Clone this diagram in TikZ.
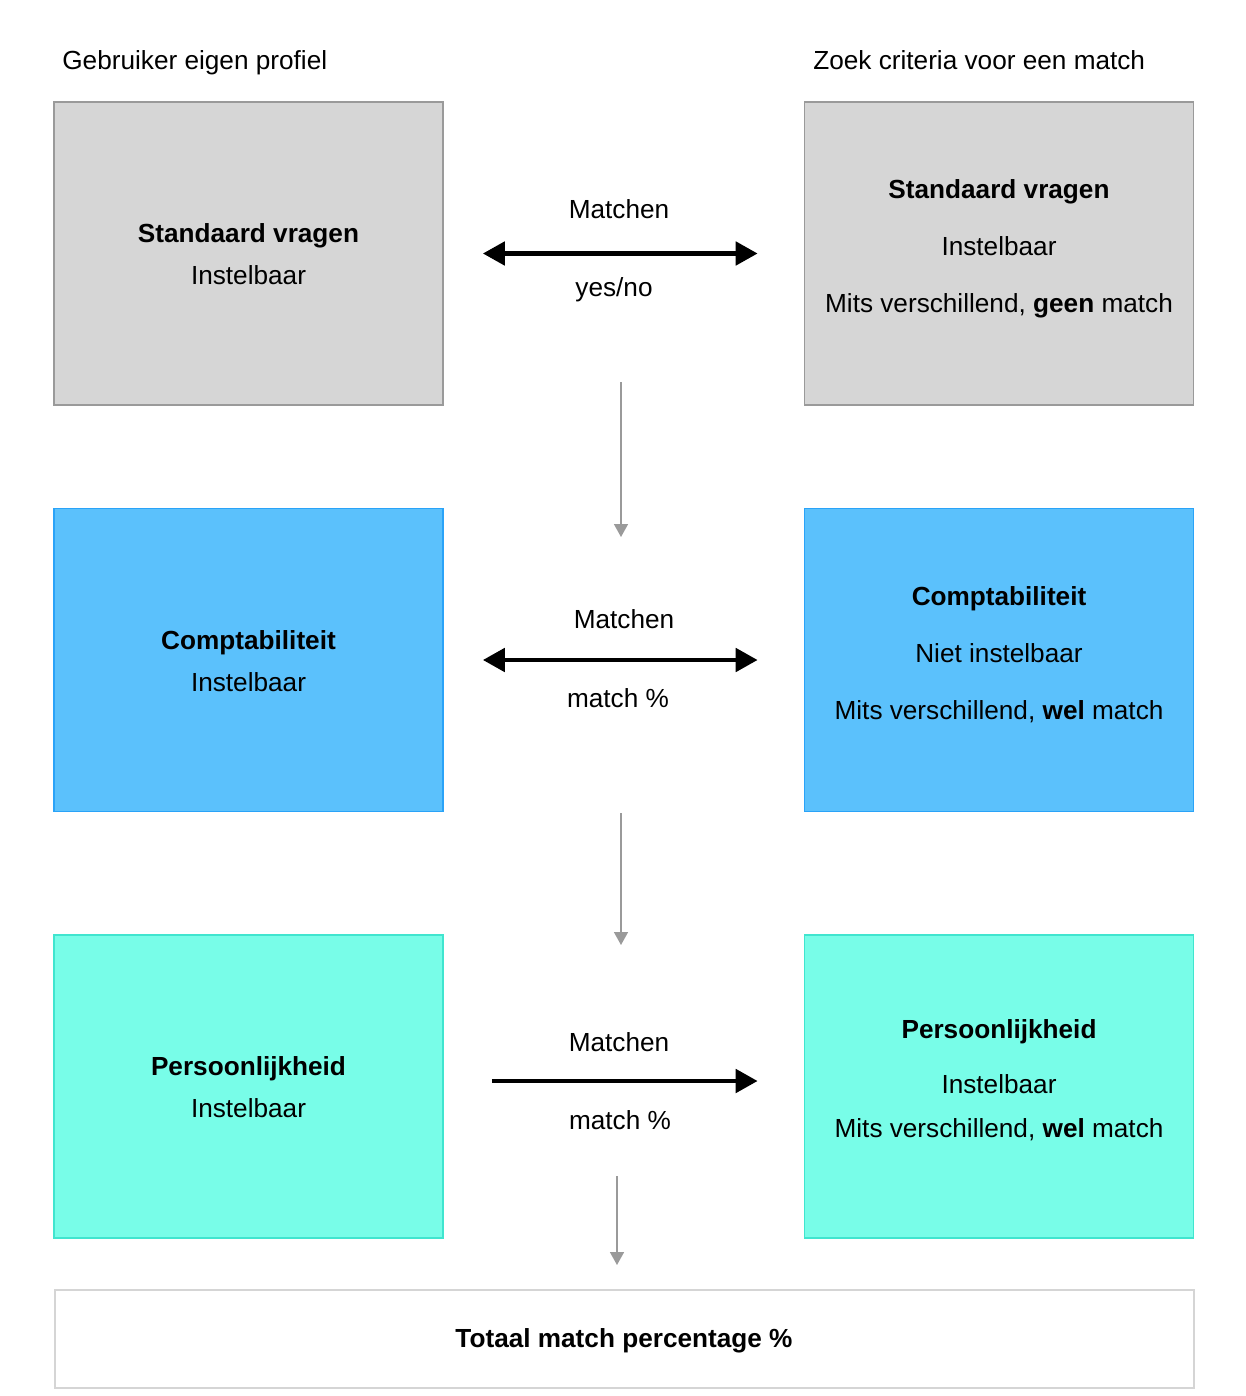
\documentclass[tikz,border=0pt]{standalone}
\usepackage{xcolor}
\usepackage{fontspec}
\setmainfont{Liberation Sans}
\usetikzlibrary{positioning,arrows.meta}

\definecolor{vraaggrijs}{HTML}{D6D6D6}
\definecolor{vraagrand}{HTML}{9A9A9A}
\definecolor{compblauw}{HTML}{5BC1FC}
\definecolor{comprand}{HTML}{2AA3F8}
\definecolor{perscyaan}{HTML}{78FDE8}
\definecolor{persrand}{HTML}{40E5CF}
\definecolor{totaalrand}{HTML}{D5D5D5}

\tikzset{
  blok/.style={draw, rectangle, line width=1pt, minimum width=7.78cm, minimum height=6.06cm},
  blokkop/.style={align=center, font=\fontsize{14.9}{24}\selectfont},
  blokrechts/.style={align=center, font=\fontsize{14.9}{32.4}\selectfont},
  pijltekst/.style={font=\fontsize{14.9}{18}\selectfont},
  matchpijl/.style={line width=2.8pt, -{Triangle[length=0.44cm,width=0.46cm]}},
  beidepijl/.style={line width=2.8pt, {Triangle[length=0.44cm,width=0.46cm]}-{Triangle[length=0.44cm,width=0.46cm]}},
  volgpijl/.style={draw=vraagrand, line width=0.9pt, -{Triangle[length=0.26cm,width=0.28cm]}}
}

\begin{document}
\begin{tikzpicture}[x=0.02cm, y=-0.02cm]
\useasboundingbox (0,0) rectangle (1246,1396);

% kopjes
\node[pijltekst, anchor=base west, inner sep=0pt] (eigen) at (62,69) {Gebruiker eigen profiel};
\node[pijltekst, anchor=base west, inner sep=0pt] (zoek) at (813,69) {Zoek criteria voor een match};

% rij 1: standaard vragen
\node[blok, fill=vraaggrijs, draw=vraagrand] (sv1) at (248.5,253.5) {};
\node[blokkop] (sv1tekst) at (248.5,254) {\textbf{Standaard vragen}\\Instelbaar};
\node[blok, fill=vraaggrijs, draw=vraagrand] (sv2) at (999,253.5) {};
\node[blokrechts] (sv2tekst) at (999,249) {\textbf{Standaard vragen}\\Instelbaar\\Mits verschillend, \textbf{geen} match};

% rij 2: comptabiliteit
\node[blok, fill=compblauw, draw=comprand] (cp1) at (248.5,660) {};
\node[blokkop] (cp1tekst) at (248.5,661) {\textbf{Comptabiliteit}\\Instelbaar};
\node[blok, fill=compblauw, draw=comprand] (cp2) at (999,660) {};
\node[blokrechts] (cp2tekst) at (999,654.5) {\textbf{Comptabiliteit}\\Niet instelbaar\\Mits verschillend, \textbf{wel} match};

% rij 3: persoonlijkheid
\node[blok, fill=perscyaan, draw=persrand] (pl1) at (248.5,1086.5) {};
\node[blokkop] (pl1tekst) at (248.5,1087) {\textbf{Persoonlijkheid}\\Instelbaar};
\node[blok, fill=perscyaan, draw=persrand] (pl2) at (999,1086.5) {};
\node[blokrechts] (pl2tekst) at (999,1080) {\textbf{Persoonlijkheid}\\[-1.2pt]Instelbaar\\[-7.5pt]Mits verschillend, \textbf{wel} match};

% totaal
\node[draw=totaalrand, line width=1pt, fill=white, minimum width=22.78cm, minimum height=1.96cm] (totaal) at (624.5,1339) {};
\node[pijltekst] (totaaltekst) at (624,1341) {\textbf{Totaal match percentage \%}};

% matchen
\node[pijltekst] (m1) at (619,209) {Matchen};
\node[pijltekst] (yn1) at (614,290) {yes/no};
\draw[beidepijl, shorten <=0.78cm, shorten >=0.92cm] (sv1.east) -- (sv2.west);

\node[pijltekst] (m2) at (624,619) {Matchen};
\node[pijltekst] (mp2) at (618,698) {match \%};
\draw[beidepijl, shorten <=0.78cm, shorten >=0.92cm] (cp1.east) -- (cp2.west);

\node[pijltekst] (m3) at (619,1042) {Matchen};
\node[pijltekst] (mp3) at (620,1120) {match \%};
\draw[matchpijl, shorten <=0.96cm, shorten >=0.92cm] ([yshift=0.11cm]pl1.east) -- ([yshift=0.11cm]pl2.west);

% doorstromen naar volgende stap
\coordinate (g1a) at (621,382);
\coordinate (g1b) at (621,537);
\coordinate (g2a) at (621,813);
\coordinate (g2b) at (621,945);
\coordinate (g3a) at (617,1176);
\coordinate (g3b) at (617,1265);
\draw[volgpijl] (g1a) -- (g1b);
\draw[volgpijl] (g2a) -- (g2b);
\draw[volgpijl] (g3a) -- (g3b);
\end{tikzpicture}
\end{document}
